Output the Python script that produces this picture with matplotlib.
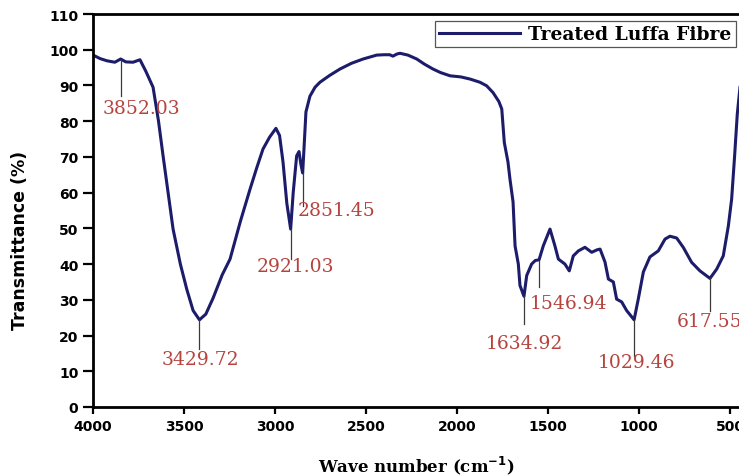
import matplotlib
matplotlib.use("Agg")
import matplotlib.pyplot as plt

# FTIR spectrum (wavenumber cm^-1, transmittance %)
wavenumber = [4000, 3960, 3923, 3880, 3848, 3820, 3780, 3742, 3710, 3670,
              3640, 3615, 3560, 3520, 3485, 3450, 3415, 3380, 3340, 3290,
              3247, 3190, 3137, 3100, 3066, 3030, 2995, 2975, 2956, 2935,
              2914, 2900, 2881, 2868, 2858, 2848, 2840, 2830, 2808, 2780,
              2753, 2700, 2643, 2580, 2516, 2441, 2400, 2370, 2352, 2330,
              2313, 2270, 2221, 2180, 2132, 2090, 2038, 1980, 1929, 1874,
              1837, 1802, 1770, 1754, 1740, 1720, 1709, 1692, 1681, 1663,
              1654, 1632, 1617, 1590, 1570, 1549, 1526, 1489, 1462, 1443,
              1407, 1383, 1361, 1333, 1297, 1260, 1230, 1214, 1187, 1168,
              1141, 1123, 1095, 1068, 1027, 1004, 976, 940, 894, 857,
              830, 793, 757, 711, 665, 610, 573, 537, 509, 491,
              475, 460, 440, 400]
transmittance = [98.5, 97.5, 96.9, 96.5, 97.4, 96.6, 96.5, 97.2, 94.0, 89.5,
                 80.0, 70.3, 49.8, 40.0, 33.0, 27.0, 24.4, 26.0, 30.5, 37.0,
                 41.4, 52.0, 61.0, 67.0, 72.2, 75.5, 78.0, 76.0, 68.6, 57.0,
                 49.8, 60.0, 70.3, 71.5, 68.0, 65.5, 73.0, 82.6, 87.0, 89.5,
                 90.9, 92.8, 94.6, 96.2, 97.4, 98.5, 98.6, 98.6, 98.2, 98.8,
                 99.0, 98.5, 97.4, 96.0, 94.6, 93.6, 92.7, 92.4, 91.8, 90.9,
                 89.9, 88.0, 85.5, 83.4, 74.0, 68.6, 63.8, 57.4, 45.1, 40.0,
                 34.0, 31.0, 36.8, 40.0, 41.0, 41.2, 45.1, 49.8, 45.1, 41.4,
                 40.0, 38.1, 42.3, 43.7, 44.7, 43.3, 44.0, 44.2, 40.6, 35.8,
                 35.0, 30.2, 29.4, 27.0, 24.4, 30.2, 37.8, 42.0, 43.7, 47.0,
                 47.8, 47.3, 44.7, 40.5, 38.1, 36.0, 38.6, 42.3, 50.7, 58.2,
                 70.0, 82.0, 92.0, 98.0]

# peak labels: text, marker position, line bottom, text centre
peak_labels = ["3852.03", "3429.72", "2921.03", "2851.45",
               "1634.92", "1546.94", "1029.46", "617.55"]
peak_x = [3848, 3415, 2914, 2848, 1632, 1549, 1027, 610]
peak_top = [97.2, 24.4, 49.8, 65.5, 31.0, 41.0, 24.4, 36.0]
peak_bottom = [87.1, 16.2, 41.4, 56.3, 23.2, 33.5, 14.3, 27.0]
label_x = [3736, 3412, 2890, 2662, 1632, 1385, 1013, 610]
label_y = [83.7, 13.3, 39.6, 55.0, 18.0, 29.1, 12.5, 24.2]

line_col = "#1c1c6b"
red = "#b5443f"

fig = plt.figure(figsize=(7.39, 4.77), dpi=100)
ax = fig.add_axes([93 / 739, 69 / 477, 655.2 / 739, 393 / 477])

ax.plot(wavenumber, transmittance, color=line_col, lw=2.2,
        label="Treated Luffa Fibre")

for lab, px, top, bot, tx, ty in zip(peak_labels, peak_x, peak_top,
                                      peak_bottom, label_x, label_y):
    ax.plot([px, px], [top, bot], color="#3a3a3a", lw=0.9)
    ax.text(tx, ty, lab, color=red, fontsize=13.5, family="DejaVu Serif",
            ha="center", va="center")

ax.set_xlim(4000, 400)
ax.set_ylim(0, 110)
ax.set_xticks([4000, 3500, 3000, 2500, 2000, 1500, 1000, 500])
ax.set_yticks(range(0, 111, 10))
for s in ax.spines.values():
    s.set_linewidth(2.0)
ax.tick_params(axis="y", length=7, width=1.6, pad=3.5)
ax.tick_params(axis="x", length=5, width=1.6, pad=4)
for t in ax.get_xticklabels() + ax.get_yticklabels():
    t.set_fontweight("bold")
    t.set_fontsize(10)

ax.set_xlabel("Wave number (cm$^{\\mathbf{-1}}$)", family="DejaVu Serif",
              fontweight="bold", fontsize=12)
ax.xaxis.set_label_coords(0.494, -0.118)
ax.set_ylabel("Transmittance (%)", fontweight="bold", fontsize=12.5)
ax.yaxis.set_label_coords(-0.098, 0.427)

leg = ax.legend(loc="upper left", bbox_to_anchor=(435 / 739, 1 - 22 / 477),
                bbox_transform=fig.transFigure, borderaxespad=0,
                fancybox=False, edgecolor="#555555", framealpha=1,
                handlelength=4.3, handletextpad=0.45, borderpad=0.22,
                prop={"family": "DejaVu Serif", "weight": "bold", "size": 13.5})
leg.get_frame().set_linewidth(0.9)

fig.savefig("out.png", dpi=100)
